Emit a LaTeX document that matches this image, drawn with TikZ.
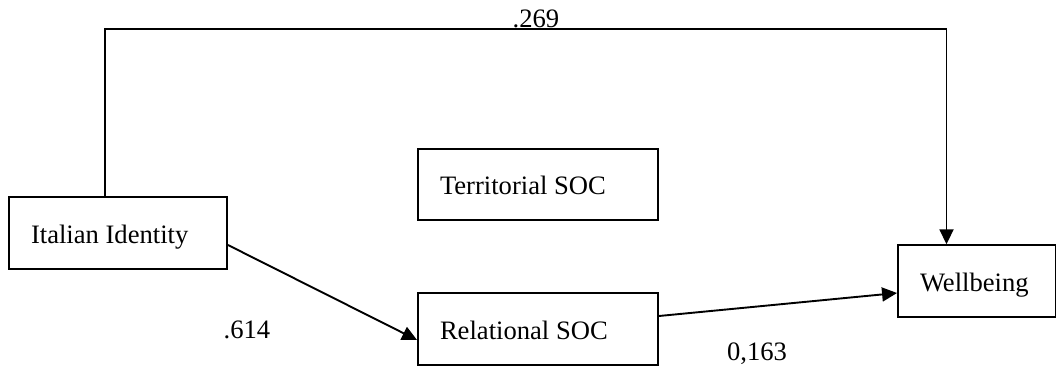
\documentclass[tikz,border=0pt]{standalone}
\usepackage{fontspec}
\setmainfont{Liberation Serif}
\usetikzlibrary{arrows.meta,calc}
\begin{document}
\begin{tikzpicture}[x=1pt,y=-1pt,
  every node/.style={font=\fontsize{26.6}{30}\selectfont},
  varbox/.style={draw,line width=1.9pt,inner xsep=22pt,inner ysep=0pt,
    align=flush left,minimum height=71.5pt,text height=20pt,text depth=0pt},
  arr/.style={line width=1.9pt,-{Triangle[length=15pt,width=14pt]}},
  coef/.style={inner sep=0pt}]
  \useasboundingbox (0,0) rectangle (1057,367);
  % variables
  \node[varbox,text width=174pt] (it)  at (118,233)   {Italian Identity};
  \node[varbox,text width=196pt] (ter) at (538,184.5) {Territorial SOC};
  \node[varbox,text width=196pt] (rel) at (538,329)   {Relational SOC};
  \node[varbox,text width=113.5pt] (wb) at (976.75,281) {Wellbeing};
  % direct path over the top
  \coordinate (tl) at (105,29);
  \coordinate (tr) at (946.5,29);
  \draw[arr] (tl |- it.north) -- (tl) -- (tr) -- (tr |- wb.north);
  \node[coef,anchor=base] (c1) at (536,27) {.269};
  % mediated path
  \draw[arr] ($(it.east)+(0,12)$) -- ($(rel.west)+(0,11)$);
  \draw[arr] ($(rel.east)+(0,-13)$) -- ($(wb.west)+(0,12)$);
  \node[coef] (c2) at (247,330) {.614};
  \node[coef] (c3) at (757,354) {0,163};
\end{tikzpicture}
\end{document}
